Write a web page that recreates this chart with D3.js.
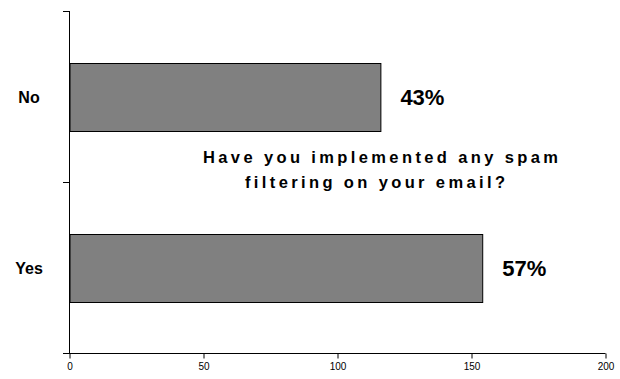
<!DOCTYPE html>
<html>
<head>
<meta charset="utf-8">
<script src="https://cdn.jsdelivr.net/npm/d3@7"></script>
<style>
  html, body { margin: 0; padding: 0; background: #fff; }
  svg { display: block; font-family: Arial, "Liberation Sans", sans-serif; }
</style>
</head>
<body>
<svg id="chart" width="620" height="379"></svg>
<script>
const categories = ["No", "Yes"];
const values = [116, 154];
const valueLabels = ["43%", "57%"];
const xTicks = [0, 50, 100, 150, 200];
const titleLines = ["Have you implemented any spam", "filtering on your email?"];

const svg = d3.select("#chart");
const x = d3.scaleLinear().domain([0, 200]).range([69.5, 605.5]);
const y = d3.scaleBand().domain(categories).range([11, 353]).paddingInner(0.605).paddingOuter(0.3025);

// bars
svg.selectAll("rect.bar").data(categories).join("rect")
  .attr("class", "bar")
  .attr("x", x(0) + 0.5)
  .attr("y", d => Math.round(y(d)) + 0.5)
  .attr("width", (d, i) => x(values[i]) - x(0))
  .attr("height", Math.round(y.bandwidth()))
  .attr("fill", "#808080")
  .attr("stroke", "#000")
  .attr("stroke-width", 1);

// x axis
const xAxis = svg.append("g").attr("transform", "translate(0,353.5)")
  .call(d3.axisBottom(x).tickValues(xTicks).tickSize(5).tickSizeOuter(0));
xAxis.select(".domain").attr("stroke", "#000").attr("d", "M63," + 0 + "H" + x(200));
xAxis.selectAll(".tick line").attr("stroke", "#000");
xAxis.selectAll(".tick text").attr("font-size", 10).attr("fill", "#000")
  .attr("font-family", "Arial, 'Liberation Sans', sans-serif").attr("y", 9);

// y axis line with ticks at band boundaries
const yAxis = svg.append("g");
yAxis.append("line").attr("x1", 69.5).attr("x2", 69.5).attr("y1", 11).attr("y2", 353)
  .attr("stroke", "#000");
const bounds = [11, (y("No") + y.bandwidth() + y("Yes")) / 2, 353];
yAxis.selectAll("line.tk").data(bounds).join("line").attr("class", "tk")
  .attr("x1", 63).attr("x2", 69.5)
  .attr("y1", d => Math.round(d) + 0.5).attr("y2", d => Math.round(d) + 0.5)
  .attr("stroke", "#000");

// category labels
svg.selectAll("text.cat").data(categories).join("text")
  .attr("class", "cat")
  .attr("x", 29)
  .attr("y", d => y(d) + y.bandwidth() / 2 + 6)
  .attr("text-anchor", "middle")
  .attr("font-size", 16).attr("font-weight", "bold")
  .text(d => d);

// value labels
svg.selectAll("text.val").data(categories).join("text")
  .attr("class", "val")
  .attr("x", (d, i) => x(values[i]) + 20)
  .attr("y", d => y(d) + y.bandwidth() / 2 + 8)
  .attr("font-size", 22).attr("font-weight", "bold")
  .text((d, i) => valueLabels[i]);

// title
const titleWidths = [355, 260];
svg.selectAll("text.title").data(titleLines).join("text")
  .attr("class", "title")
  .attr("x", (d, i) => i === 0 ? 380.5 : 375)
  .attr("y", (d, i) => 163 + i * 25)
  .attr("text-anchor", "middle")
  .attr("font-size", 16.5).attr("font-weight", "bold")
  .attr("textLength", (d, i) => titleWidths[i])
  .attr("lengthAdjust", "spacing")
  .text(d => d);
</script>
</body>
</html>
